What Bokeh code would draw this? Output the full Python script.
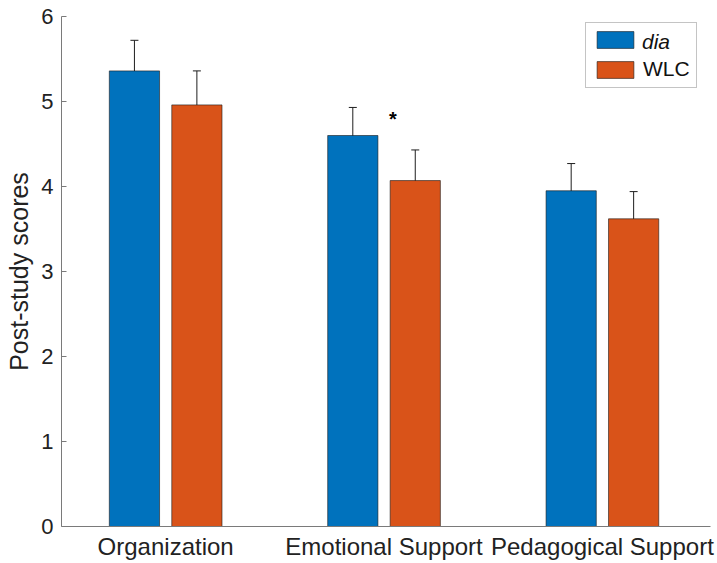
from bokeh.plotting import figure
from bokeh.models import (ColumnDataSource, Range1d, FixedTicker, Whisker, TeeHead,
                          Legend, LegendItem)
from bokeh.core.properties import value
from bokeh.embed import file_html
from bokeh.resources import INLINE

categories = ["Organization", "Emotional Support", "Pedagogical Support"]
dia_means = [5.36, 4.60, 3.95]
dia_err = [0.36, 0.33, 0.32]
wlc_means = [4.96, 4.07, 3.62]
wlc_err = [0.40, 0.36, 0.32]
y_ticks = [0, 1, 2, 3, 4, 5, 6]
star_x = 2.04
star_y = 4.79

BLUE = "#0072BD"
ORANGE = "#D95319"
FONT = "Liberation Sans"
AX = "#7a7a7a"

xs = [i + 1 for i in range(len(categories))]
off = 0.143
bw = 0.23

p = figure(width=717, height=563, output_backend="svg", toolbar_location=None,
           x_range=Range1d(0.523, 3.495), y_range=Range1d(0, 6),
           min_border_left=61, min_border_right=7, min_border_top=16, min_border_bottom=37)
p.outline_line_color = None
p.grid.visible = False
p.background_fill_color = "white"

src_d = ColumnDataSource(dict(x=[x - off for x in xs], top=dia_means,
                              lower=[m - e for m, e in zip(dia_means, dia_err)],
                              upper=[m + e for m, e in zip(dia_means, dia_err)]))
src_w = ColumnDataSource(dict(x=[x + off for x in xs], top=wlc_means,
                              lower=[m - e for m, e in zip(wlc_means, wlc_err)],
                              upper=[m + e for m, e in zip(wlc_means, wlc_err)]))

r_d = p.vbar(x="x", top="top", width=bw, source=src_d, fill_color=BLUE,
             line_color="#1a1a1a", line_width=0.6)
r_w = p.vbar(x="x", top="top", width=bw, source=src_w, fill_color=ORANGE,
             line_color="#1a1a1a", line_width=0.6)
# invisible renderer used only for the italic legend label
r_blank = p.vbar(x=[], top=[], width=bw, fill_alpha=0, line_alpha=0)

for s in (src_d, src_w):
    w = Whisker(base="x", upper="upper", lower="lower", source=s,
                line_color="#1e1e1e", line_width=1,
                upper_head=TeeHead(size=8, line_color="#1e1e1e", line_width=1),
                lower_head=TeeHead(size=8, line_color="#1e1e1e", line_width=1))
    p.add_layout(w)

p.text(x=[star_x], y=[star_y], text=["*"], text_font=value(FONT),
       text_font_size="20px", text_font_style="bold", text_align="center",
       text_baseline="alphabetic", text_color="black")

# axes
p.xaxis.ticker = FixedTicker(ticks=xs)
p.xaxis.major_label_overrides = {x: c for x, c in zip(xs, categories)}
p.xaxis.major_tick_line_color = None
p.xaxis.minor_tick_line_color = None
p.xaxis.axis_line_color = AX
p.xaxis.major_label_text_font = FONT
p.xaxis.major_label_text_font_size = "24px"
p.xaxis.major_label_text_color = "#222222"
p.xaxis.major_label_standoff = 0

p.yaxis.ticker = FixedTicker(ticks=y_ticks)
p.yaxis.major_tick_in = 5
p.yaxis.major_tick_out = 0
p.yaxis.minor_tick_line_color = None
p.yaxis.axis_line_color = AX
p.yaxis.major_tick_line_color = AX
p.yaxis.major_label_text_font = FONT
p.yaxis.major_label_text_font_size = "22px"
p.yaxis.major_label_text_color = "#222222"
p.yaxis.major_label_standoff = 8
p.yaxis.axis_label = "Post-study scores"
p.yaxis.axis_label_text_font = FONT
p.yaxis.axis_label_text_font_size = "25px"
p.yaxis.axis_label_text_font_style = "normal"
p.yaxis.axis_label_text_color = "#222222"
p.yaxis.axis_label_standoff = 5

# legend: outer box with both glyphs; italic "dia" label overlaid
leg_x, leg_y = 524, 438
leg1 = Legend(items=[LegendItem(label=" ", renderers=[r_d]),
                     LegendItem(label="WLC", renderers=[r_w])],
              location=(leg_x, leg_y))
leg2 = Legend(items=[LegendItem(label="dia", renderers=[r_blank])],
              location=(leg_x, leg_y + 28))
for lg in (leg1, leg2):
    lg.glyph_width = 46
    lg.glyph_height = 21
    lg.label_height = 21
    lg.spacing = 7
    lg.padding = 6
    lg.margin = 0
    lg.label_standoff = 5
    lg.label_text_font = FONT
    lg.label_text_font_size = "21px"
    lg.label_text_color = "#111111"
    lg.label_text_baseline = "middle"
    lg.border_line_width = 1
leg1.border_line_color = "#8a8a8a"
leg1.background_fill_color = "white"
leg1.background_fill_alpha = 1
leg2.border_line_alpha = 0
leg2.background_fill_alpha = 0
leg2.label_text_font_style = "italic"
p.add_layout(leg1, "center")
p.add_layout(leg2, "center")

open("out.html", "w").write(file_html(p, INLINE))
